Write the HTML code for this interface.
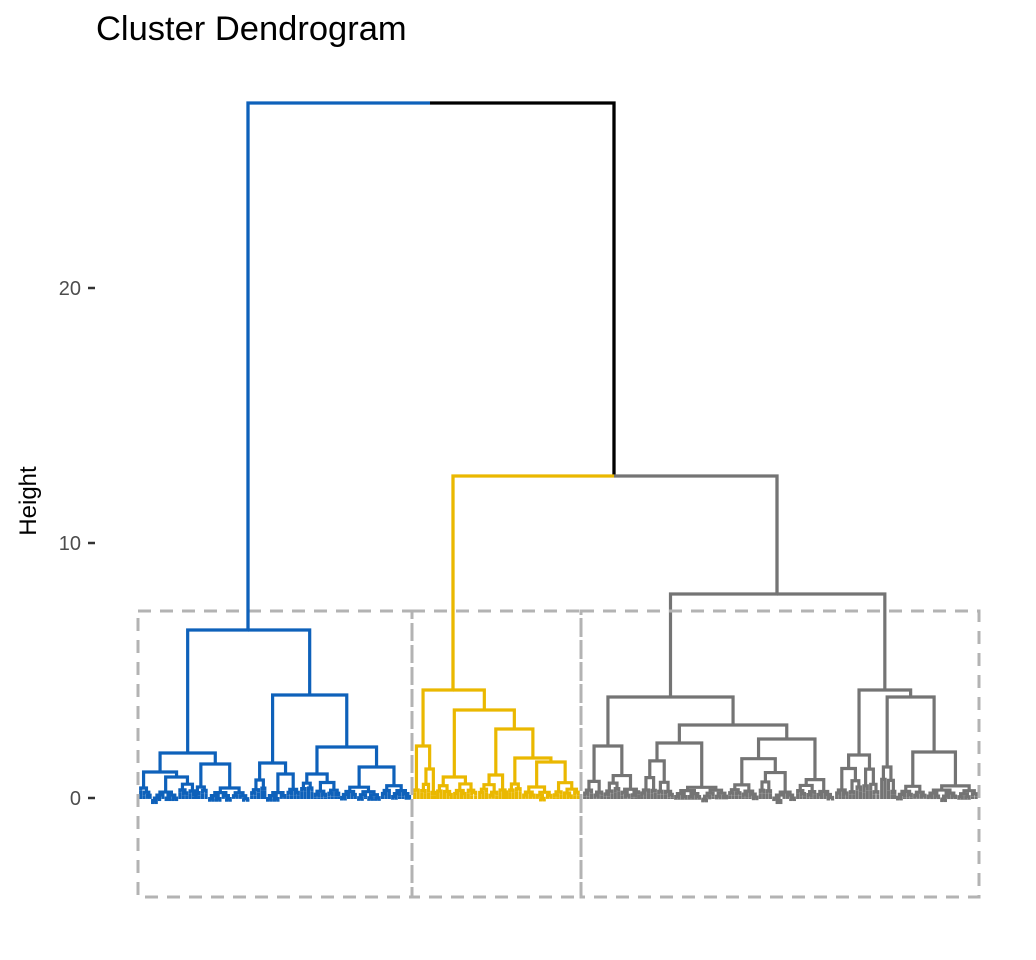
<!DOCTYPE html>
<html><head><meta charset="utf-8"><style>
html,body{margin:0;padding:0;background:#fff;}
svg{display:block;font-family:"Liberation Sans",sans-serif;}
</style></head><body>
<svg id="s" width="1036" height="960" viewBox="0 0 1036 960" xmlns="http://www.w3.org/2000/svg">
<text x="96" y="40" font-size="34.5" fill="#000">Cluster Dendrogram</text>
<text transform="translate(36,501) rotate(-90)" font-size="24" text-anchor="middle" fill="#000">Height</text>
<g font-size="20" fill="#4d4d4d" text-anchor="end">
<text x="81" y="295">20</text><text x="81" y="550">10</text><text x="81" y="805">0</text>
</g>
<g stroke="#333" stroke-width="2.5">
<line x1="88" y1="288" x2="95" y2="288"/><line x1="88" y1="543" x2="95" y2="543"/><line x1="88" y1="798" x2="95" y2="798"/>
</g>
<g id="tree" fill="none" stroke-width="3.2" stroke-linejoin="miter" stroke-linecap="butt"></g>
<g fill="none" stroke="#b3b3b3" stroke-width="3" stroke-dasharray="13,9">
<rect x="138" y="611" width="274" height="286"/>
<rect x="412" y="611" width="169" height="286"/>
<rect x="581" y="611" width="398" height="286"/>
</g>
<path d="M248 630 V103 H430" stroke="#0E61BA" stroke-width="3.3" fill="none"/>
<path d="M430 103 H614 V476" stroke="#000" stroke-width="3.3" fill="none"/>
<path d="M453 690 V476 H614" stroke="#EAB800" stroke-width="3.3" fill="none"/>
<path d="M614 476 H777 V594" stroke="#747474" stroke-width="3.3" fill="none"/>
</svg>
<script>
var g=document.getElementById('tree');var seed=7;
function rnd(){seed=(seed*16807)%2147483647;return seed/2147483647;}
var col;
function line(d){var p=document.createElementNS('http://www.w3.org/2000/svg','path');p.setAttribute('d',d);p.setAttribute('stroke',col);g.appendChild(p);}
function u(xl,yl,xr,yr,y){line('M'+xl+' '+yl+' V'+y+' H'+xr+' V'+yr);}
var B=799,S=3.4;
function gen(a,b,yt){
 if(b-a<S*1.5){var x=(a+b)/2;line('M'+x+' '+B+' V'+yt);return x;}
 var m=a+(b-a)*(0.35+0.3*rnd());
 m=a+Math.max(S,Math.round((m-a)/S)*S);if(m>=b)m=b-S;
 var yl=yt+(B-yt)*(0.3+0.5*rnd()), yr=yt+(B-yt)*(0.3+0.5*rnd());
 var lim=B-9;
 if(yl>lim)yl=lim+rnd()*3; if(yr>lim)yr=lim+rnd()*3;
 if(yl<=yt+2)yl=yt+3; if(yr<=yt+2)yr=yt+3;
 var xl=gen(a,m,yl), xr=gen(m,b,yr);
 u(xl,yl,xr,yr,yt);return (xl+xr)/2;
}
function T(y,L,R){return {y:y,L:L,R:R};}
function draw(t,ytop){
 if(t.r){return gen(t.r[0],t.r[1],ytop);}
 var xl=draw(t.L,t.L.y||t.L.h),xr=draw(t.R,t.R.y||t.R.h);
 u(xl,t.L.y||t.L.h,xr,t.R.y||t.R.h,t.y);return (xl+xr)/2;
}
function R(a,b,h){return {r:[a,b],h:h};}
col="#0E61BA";
var blue=T(630,
 T(753, T(772,R(139,151,788),R(151,197,777)), T(764,R(194,208,787),R(208,250,788))),
 T(695, T(763,R(250,266,780),R(266,300,774)), T(747,R(300,340,774),R(340,411,767))));
var bx=draw(blue,630);line('M'+bx+' 630 H248');
col="#EAB800";
var yel=T(690,
 T(746, R(413,420,790), R(420,436,769)),
 T(710, R(436,478,777), T(729, R(478,508,775), T(758, R(508,522,784), R(522,580,762)))));
var yx=draw(yel,690);line('M'+yx+' 690 H453');
col="#747474";
var gray=T(594,
 T(697, R(583,640,746), T(725, R(640,728,743), R(728,835,739))),
 T(690, R(835,880,755), T(697, R(880,896,767), R(896,978,752))));
var gx=draw(gray,594);line('M'+gx+' 594 H777');
</script>
</body></html>
